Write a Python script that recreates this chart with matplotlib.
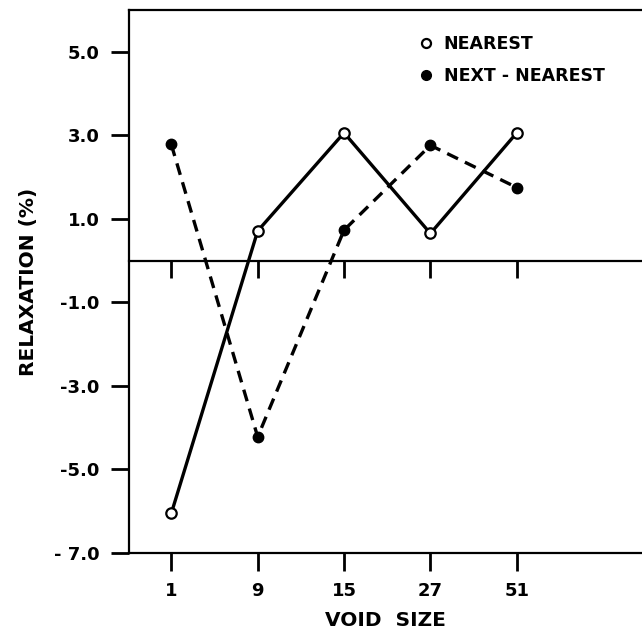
import matplotlib
matplotlib.use("Agg")
import matplotlib.pyplot as plt
from matplotlib.lines import Line2D

# ---- data ----
void_sizes = ["1", "9", "15", "27", "51"]
nearest = [-6.05, 0.71, 3.06, 0.65, 3.06]
next_nearest = [2.78, -4.22, 0.73, 2.76, 1.75]
y_ticks = [5.0, 3.0, 1.0, -1.0, -3.0, -5.0, -7.0]
y_tick_labels = ["5.0", "3.0", "1.0", "-1.0", "-3.0", "-5.0", "- 7.0"]

plt.rcParams['font.family'] = ['DejaVu Sans']
plt.rcParams['font.weight'] = 'bold'

fig = plt.figure(figsize=(6.42, 6.40), dpi=100)
ax = fig.add_axes([129 / 642, 1 - 553 / 640, 1 - 129 / 642, (553 - 10) / 640])

xpos = list(range(1, len(void_sizes) + 1))

ax.plot(xpos, nearest, color='black', lw=2.4, ls='-', marker='o',
        ms=7.5, mfc='white', mec='black', mew=1.6, zorder=3)
ax.plot(xpos, next_nearest, color='black', lw=2.4, ls=(0, (3.6, 2.3)),
        marker='o', ms=7.5, mfc='black', mec='black', zorder=3)

ax.set_xlim(0.51, 6.45)
ax.set_ylim(-7.0, 6.0)

ax.set_yticks(y_ticks)
ax.set_yticklabels(y_tick_labels)
ax.set_xticks(xpos)
ax.set_xticklabels(void_sizes)

ax.tick_params(axis='y', direction='out', length=13, width=2, pad=8,
               labelsize=13)
ax.tick_params(axis='x', direction='out', length=13, width=2, pad=8,
               labelsize=13)

for s in ['left', 'bottom', 'top']:
    ax.spines[s].set_linewidth(1.6)
ax.spines['right'].set_visible(False)

# zero line with downward ticks at each void size
sec = ax.secondary_xaxis(0, transform=ax.transData)
sec.set_xticks(xpos)
sec.tick_params(direction='out', length=12, width=2, labelbottom=False,
                labeltop=False)
sec.spines['bottom'].set_linewidth(1.6)

ax.set_ylabel("RELAXATION (%)", fontsize=14.5, fontweight='bold', labelpad=12)
ax.set_xlabel("VOID  SIZE", fontsize=14.5, fontweight='bold', labelpad=8)

handles = [
    Line2D([], [], ls='none', marker='o', ms=6.5, mfc='white', mec='black', mew=1.6),
    Line2D([], [], ls='none', marker='o', ms=7, mfc='black', mec='black'),
]
ax.legend(handles, ["NEAREST", "NEXT - NEAREST"], loc='upper left',
          bbox_to_anchor=(285 / 513, 1 - 18 / 543), frameon=False,
          fontsize=12.5, handlelength=0.6, handletextpad=0.7,
          labelspacing=0.8, borderaxespad=0)

fig.savefig("out.png", dpi=100)
